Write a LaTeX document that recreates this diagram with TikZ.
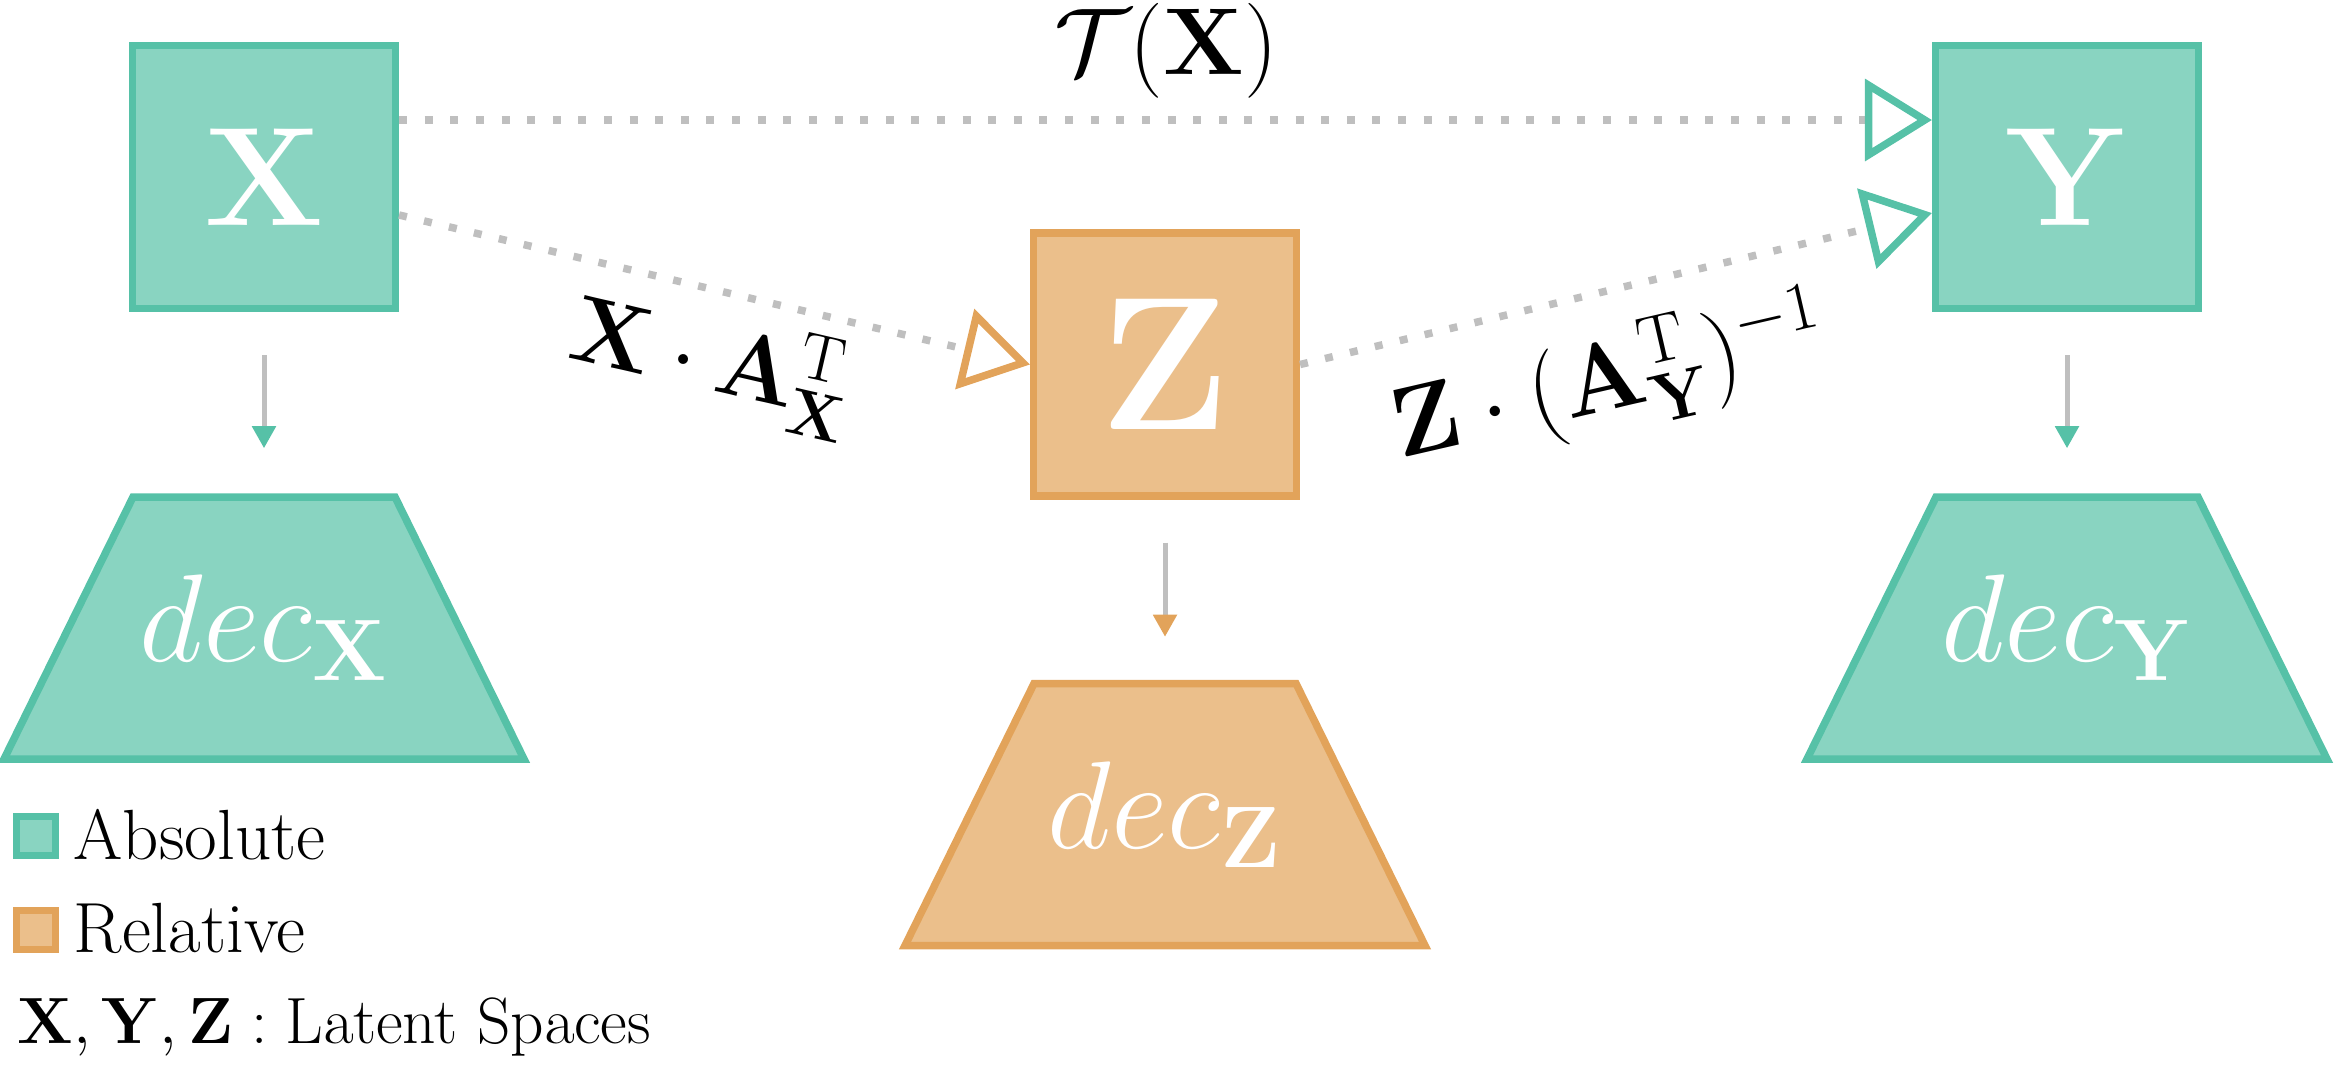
\RequirePackage{fix-cm}
\documentclass[tikz,border=0pt]{standalone}
\usetikzlibrary{arrows.meta,calc}
\definecolor{tealB}{RGB}{86,193,167}
\definecolor{orangeB}{RGB}{226,163,90}
\definecolor{dotgray}{RGB}{191,191,191}
\tikzset{
  latent/.style={draw=#1, fill=#1!70, line width=0.075cm, minimum width=2.625cm,
    minimum height=2.625cm, inner sep=0pt, text=white},
  decshape/.style={draw=#1, fill=#1!70, line width=0.075cm, line join=miter},
  declabel/.style={inner sep=0pt, text=white, font=\fontsize{35.5}{37}\selectfont},
  dotline/.style={draw=dotgray, line width=0.075cm, dash pattern=on 0.08cm off 0.176cm},
  opentip/.style={-{Triangle[open, length=0.67cm, width=0.81cm, color=#1]}},
  downarrow/.style={draw=dotgray, line width=0.05cm, -{Triangle[length=0.22cm, width=0.23cm, color=#1]}},
  legbox/.style={draw=#1, fill=#1!70, line width=0.07cm, minimum size=0.39cm, inner sep=0pt},
  plain/.style={inner sep=0pt, anchor=base west},
  boxfont/.style={font=\fontsize{40}{42}\selectfont},
  legfont/.style={font=\fontsize{20.2}{22}\selectfont},
}
\begin{document}
\begin{tikzpicture}[x=0.01cm, y=-0.01cm]
\useasboundingbox (0,0) rectangle (2345,1066);
% latent spaces
\node[latent=tealB, boxfont] (X) at (264,177) {$\mathbf{X}$};
\node[latent=tealB, boxfont] (Y) at (2067,177) {$\mathbf{Y}$};
\node[latent=orangeB, font=\fontsize{54}{56}\selectfont] (Z) at (1165,364.5) {$\mathbf{Z}$};
% decoders
\coordinate (cX) at (264,628);
\coordinate (cZ) at (1165,814.5);
\coordinate (cY) at (2067,628);
\foreach \c/\col in {cX/tealB, cZ/orangeB, cY/tealB}{
  \draw[decshape=\col] ($(\c)+(-131,-131)$) -- ($(\c)+(131,-131)$)
    -- ($(\c)+(260,131)$) -- ($(\c)+(-260,131)$) -- cycle;
}
\coordinate (dXtop) at ($(cX)+(0,-134.75)$);
\coordinate (dZtop) at ($(cZ)+(0,-134.75)$);
\coordinate (dYtop) at ($(cY)+(0,-134.75)$);
\node[declabel] (dX) at (cX) {$dec_{\mathbf{X}}$};
\node[declabel] (dZ) at (cZ) {$dec_{\mathbf{Z}}$};
\node[declabel] (dY) at (cY) {$dec_{\mathbf{Y}}$};
% transformation label
\node[anchor=base, inner sep=0pt, font=\fontsize{27}{29}\selectfont] (T) at (1166,74) {$\mathcal{T}(\mathbf{X})$};
% dotted connectors
\draw[dotline, opentip=tealB] (X.east |- 0,120) -- (Y.west |- 0,120);
\draw[dotline, opentip=orangeB] (X.east |- 0,215) -- (Z.west);
\draw[dotline, opentip=tealB] (Z.east) -- (Y.west |- 0,213);
% rotated labels
\node[plain, rotate=-13, font=\fontsize{26.8}{28}\selectfont] (lXZ) at (566,357)
  {$\mathbf{X}\cdot\mathbf{A}_{\mathbf{X}}^{\mathrm{T}}$};
\node[plain, rotate=13, font=\fontsize{28}{30}\selectfont] (lZY) at (1400,459)
  {$\mathbf{Z}\cdot(\mathbf{A}_{\mathbf{Y}}^{\mathrm{T}})^{-1}$};
% decoding arrows
\draw[downarrow=tealB] ([yshift=-0.43cm]X.south) -- ([yshift=0.45cm]dXtop);
\draw[downarrow=orangeB] ([yshift=-0.43cm]Z.south) -- ([yshift=0.43cm]dZtop);
\draw[downarrow=tealB] ([yshift=-0.43cm]Y.south) -- ([yshift=0.45cm]dYtop);
% legend
\node[legbox=tealB] (legA) at (36,835.5) {};
\node[legbox=orangeB] (legR) at (36,930) {};
\node[plain, legfont] (tA) at (73,859) {Absolute};
\node[plain, legfont] (tR) at (73,952) {Relative};
\node[plain, font=\fontsize{18.6}{20}\selectfont] (tL) at (17,1043)
  {$\mathbf{X},\mathbf{Y},\mathbf{Z}:\mathrm{Latent\ Spaces}$};
\end{tikzpicture}
\end{document}
